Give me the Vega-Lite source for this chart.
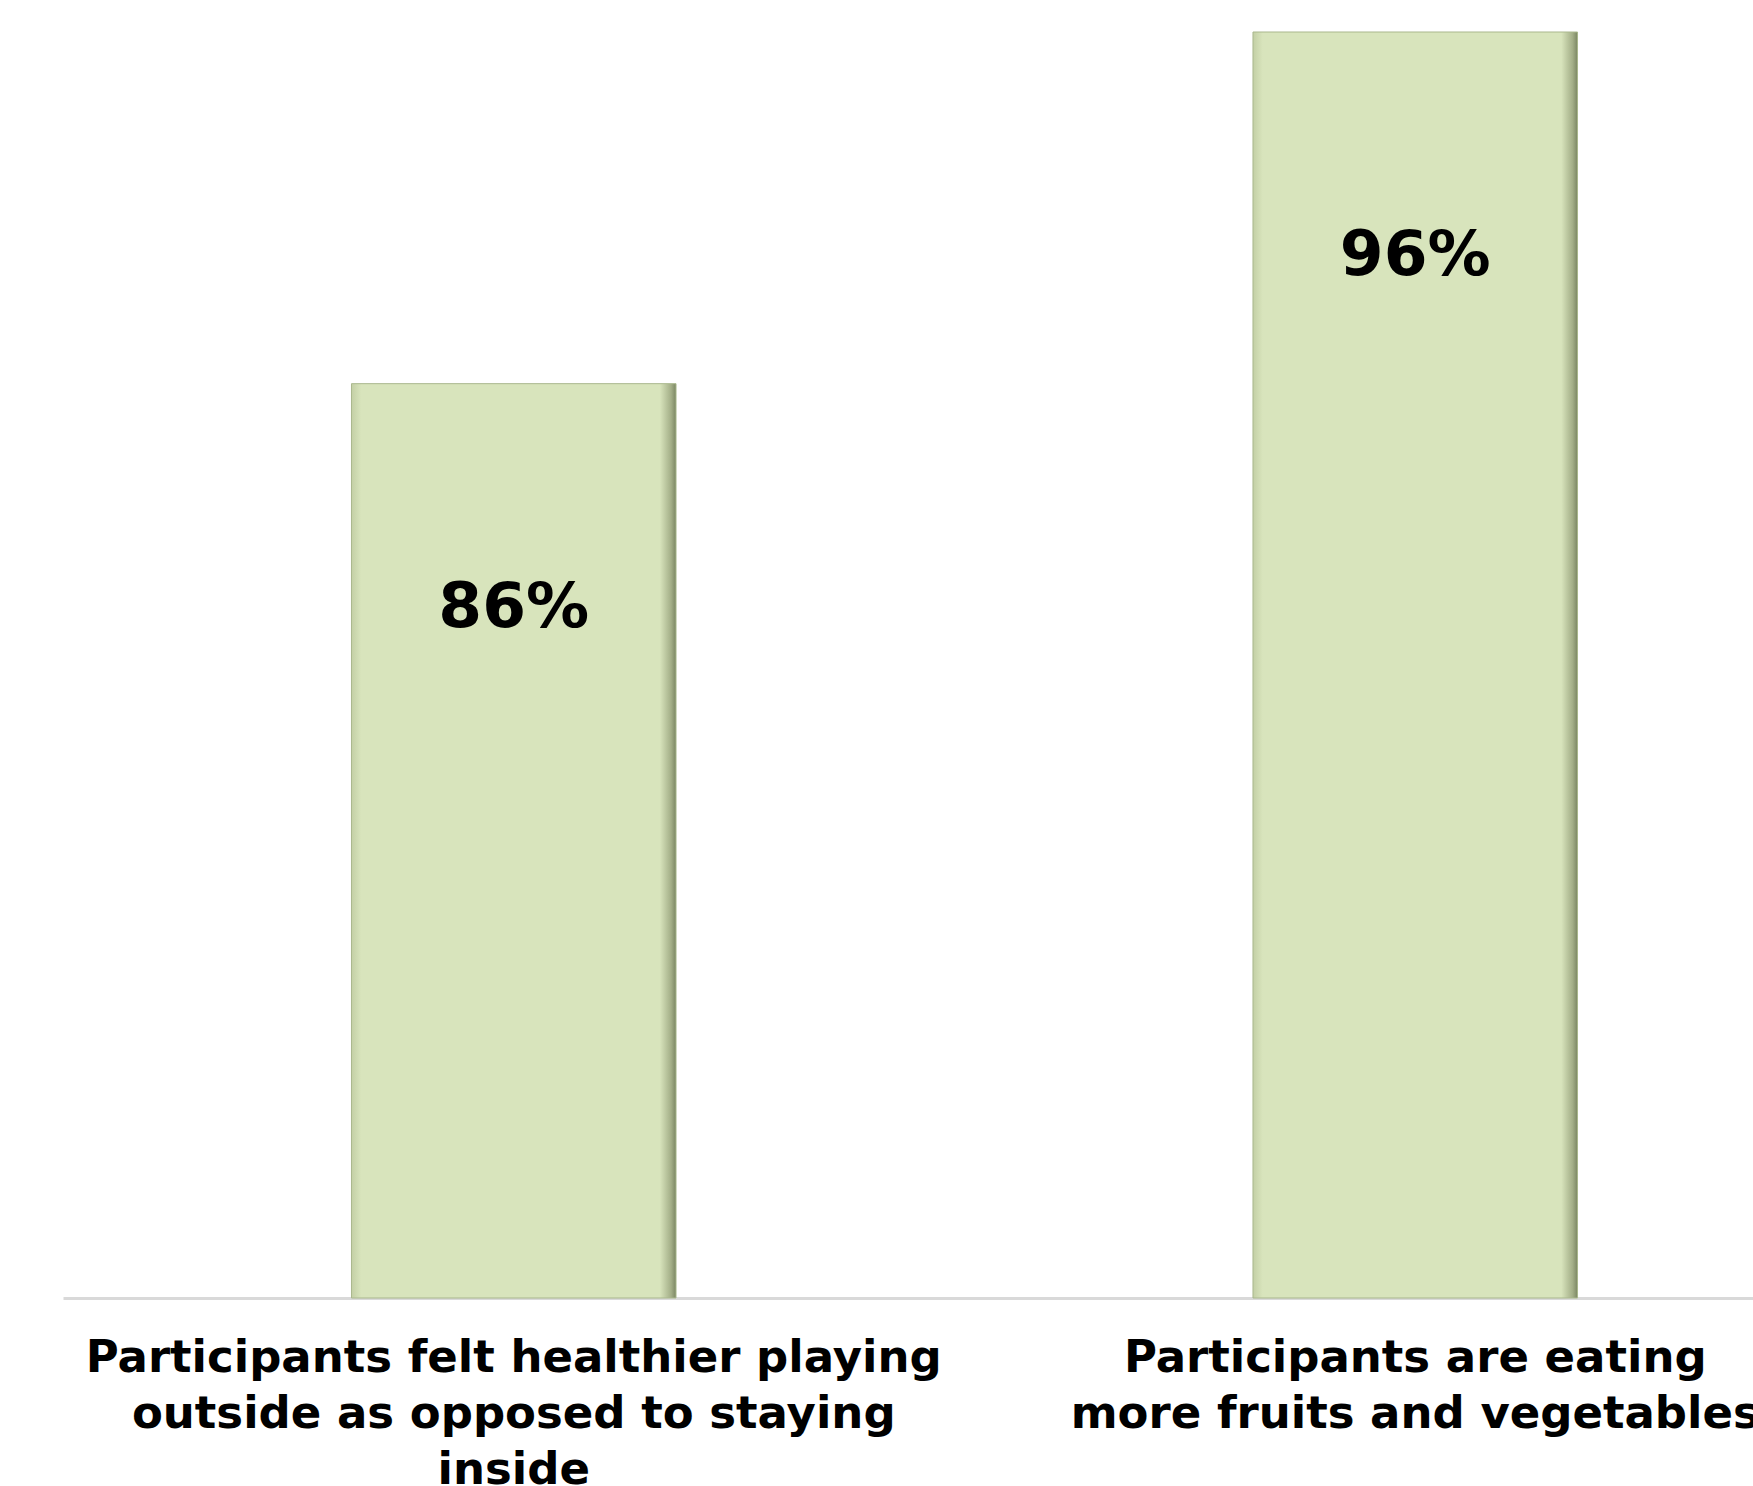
{
  "$schema": "https://vega.github.io/schema/vega-lite/v6.json",
  "autosize": {"type": "none"},
  "width": 1690,
  "height": 1298,
  "padding": {"left": 63, "top": 0, "right": 0, "bottom": 188},
  "background": "white",
  "config": {"view": {"stroke": null}},
  "data": {
    "values": [
      {"category": "Participants felt healthier playing|outside as opposed to staying|inside", "value": 86, "label": "86%"},
      {"category": "Participants are eating|more fruits and vegetables", "value": 96, "label": "96%"}
    ]
  },
  "encoding": {
    "x": {
      "field": "category",
      "type": "nominal",
      "sort": null,
      "scale": {"range": [0, 1803], "paddingInner": 0.64, "paddingOuter": 0.32},
      "axis": {
        "title": null,
        "labelAngle": 0,
        "labelExpr": "split(datum.label, '|')",
        "labelFont": "DejaVu Sans",
        "labelFontWeight": "bold",
        "labelFontSize": 45,
        "labelLineHeight": 56,
        "labelColor": "#000000",
        "labelPadding": 37,
        "labelLimit": 2000,
        "ticks": false,
        "domainColor": "#d9d9d9",
        "domainWidth": 3
      }
    },
    "y": {
      "field": "value",
      "type": "quantitative",
      "scale": {"domain": [60, 96.91], "zero": false, "nice": false, "clamp": true},
      "axis": null
    }
  },
  "layer": [
    {
      "mark": {
        "type": "bar",
        "stroke": "#a9b78c",
        "strokeWidth": 1,
        "color": {
          "gradient": "linear",
          "x1": 0, "x2": 1, "y1": 0, "y2": 0,
          "stops": [
            {"offset": 0, "color": "#c3cfa5"},
            {"offset": 0.03, "color": "#d8e4bc"},
            {"offset": 0.95, "color": "#d8e4bc"},
            {"offset": 0.985, "color": "#a3ae87"},
            {"offset": 1, "color": "#7b8663"}
          ]
        }
      }
    },
    {
      "mark": {
        "type": "text",
        "font": "DejaVu Sans",
        "fontWeight": "bold",
        "fontSize": 63,
        "color": "#000000",
        "baseline": "middle",
        "align": "center",
        "dy": 224
      },
      "encoding": {"text": {"field": "label"}}
    }
  ]
}
